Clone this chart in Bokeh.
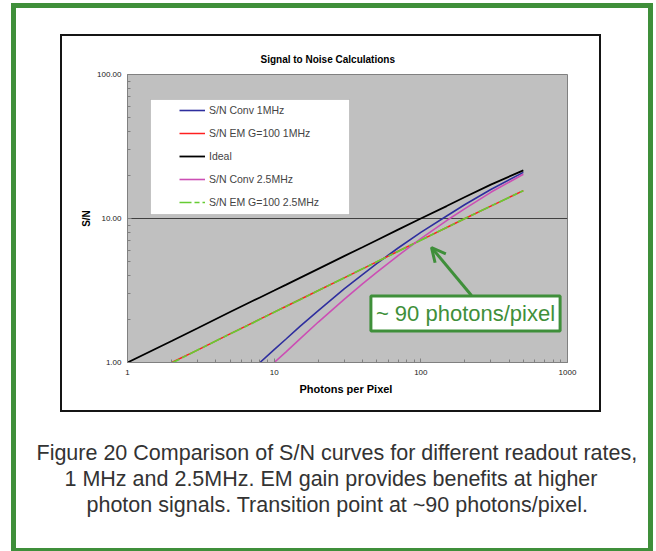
from bokeh.plotting import figure
from bokeh.models import (FixedTicker, PrintfTickFormatter, Legend, LegendItem,
                          BoxAnnotation, Label, Arrow, OpenHead, Title)
from bokeh.embed import file_html
from bokeh.resources import INLINE

# ---------------- data ----------------
photons = [1, 2, 3, 5, 7, 8, 10, 12, 15, 20, 30, 40, 50, 70, 100, 150, 200, 300, 500]
sn_conv_1mhz = [0.13, 0.26, 0.39, 0.64, 0.88, 1.00, 1.23, 1.45, 1.78, 2.29, 3.24, 4.08, 4.86, 6.24, 8.01, 10.4, 12.5, 15.9, 20.9]
sn_em_1mhz = [0.71, 1.00, 1.22, 1.58, 1.87, 2.00, 2.24, 2.45, 2.74, 3.16, 3.87, 4.47, 5.00, 5.92, 7.07, 8.66, 10.0, 12.2, 15.6]
sn_ideal = [1.00, 1.41, 1.73, 2.24, 2.65, 2.83, 3.16, 3.46, 3.87, 4.47, 5.48, 6.32, 7.07, 8.37, 10.0, 12.2, 14.1, 17.2, 21.6]
sn_conv_25mhz = [0.10, 0.21, 0.31, 0.51, 0.71, 0.81, 1.00, 1.18, 1.46, 1.91, 2.74, 3.51, 4.23, 5.53, 7.25, 9.68, 11.7, 15.2, 20.3]
sn_em_25mhz = [0.70, 0.99, 1.22, 1.58, 1.86, 2.00, 2.23, 2.45, 2.73, 3.16, 3.87, 4.47, 5.00, 5.91, 7.07, 8.66, 10.0, 12.2, 15.6]

series_names = ["S/N Conv 1MHz", "S/N EM G=100 1MHz", "Ideal", "S/N Conv 2.5MHz", "S/N EM G=100 2.5MHz"]
x_ticks = [1, 10, 100, 1000]
y_ticks = [1, 10, 100]

title_text = "Signal to Noise Calculations"
x_label = "Photons per  Pixel"
y_label = "S/N"
callout_text = "~ 90 photons/pixel"
caption_lines = ["Figure 20 Comparison of S/N curves for different readout rates,",
                 "1 MHz and 2.5MHz.  EM gain provides benefits at higher",
                 "photon signals. Transition point at ~90 photons/pixel."]
caption_offsets = [-91, -63, -41]

FONT = "Liberation Sans"
GREEN = "#3f8f3a"
BOXLINE = "#151515"

p = figure(width=656, height=551, x_axis_type="log", y_axis_type="log",
           x_range=(1, 1000), y_range=(1, 100),
           output_backend="svg", toolbar_location=None,
           min_border_left=127, min_border_right=89,
           min_border_top=74, min_border_bottom=189)
p.background_fill_color = "#c0c0c0"
p.border_fill_alpha = 0
p.outline_line_color = "#808080"
p.outline_line_width = 1

# page decoration: green outer frame and black chart box (drawn as CSS background strips)
_strips = [  # (color, x, y, w, h)
    (GREEN, 11, 3, 642, 5), (GREEN, 11, 548, 642, 5),
    (GREEN, 11, 3, 5, 550), (GREEN, 648, 3, 5, 550),
    (BOXLINE, 60, 34, 541, 2), (BOXLINE, 60, 410, 541, 2),
    (BOXLINE, 60, 34, 2, 378), (BOXLINE, 599, 34, 2, 378),
]
p.styles = {
    "background-color": "white",
    "background-image": ", ".join(f"linear-gradient({c}, {c})" for c, *_ in _strips),
    "background-size": ", ".join(f"{w}px {h}px" for _, _, _, w, h in _strips),
    "background-position": ", ".join(f"{x}px {y}px" for _, x, y, _, _ in _strips),
    "background-repeat": "no-repeat",
}

# grid: only the 10.00 line
p.xgrid.visible = False
p.ygrid.ticker = FixedTicker(ticks=[10])
p.ygrid.grid_line_color = "#404040"
p.ygrid.grid_line_width = 1

x_minor = [m * d for d in (1, 10, 100) for m in range(2, 10)]
y_minor = [m * d for d in (1, 10) for m in range(2, 10)]
p.xaxis.ticker = FixedTicker(ticks=x_ticks, minor_ticks=x_minor)
p.yaxis.ticker = FixedTicker(ticks=y_ticks, minor_ticks=y_minor)
p.xaxis.formatter = PrintfTickFormatter(format="%d")
p.yaxis.formatter = PrintfTickFormatter(format="%.2f")

for ax in (p.xaxis, p.yaxis):
    ax.axis_line_color = "#808080"
    ax.major_tick_line_color = "#808080"
    ax.minor_tick_line_color = "#808080"
    ax.major_tick_in = 4
    ax.major_tick_out = 0
    ax.minor_tick_in = 3
    ax.minor_tick_out = 0
    ax.major_label_text_font = FONT
    ax.major_label_text_font_size = "8px"
    ax.major_label_text_color = "#222222"
    ax.axis_label_text_font = FONT
    ax.axis_label_text_font_style = "bold"
    ax.axis_label_text_color = "black"

p.xaxis.axis_label = x_label
p.xaxis.axis_label_text_font_size = "11px"
p.xaxis.major_label_standoff = 7
p.xaxis.axis_label_standoff = 5
p.yaxis.axis_label = y_label
p.yaxis.axis_label_text_font_size = "10px"
p.yaxis.major_label_standoff = 6
p.yaxis.axis_label_standoff = 2

# ---------------- lines ----------------
r_conv1 = p.line(photons, sn_conv_1mhz, line_color="#2e2e9e", line_width=1.6)
r_em1 = p.line(photons, sn_em_1mhz, line_color="#ff2020", line_width=1.5)
r_ideal = p.line(photons, sn_ideal, line_color="black", line_width=1.8)
r_conv25 = p.line(photons, sn_conv_25mhz, line_color="#cc4fb4", line_width=1.6)
r_em25 = p.line(photons, sn_em_25mhz, line_color="#66cc33", line_width=1.7, line_dash="12 3 5 3")

# legend white box
p.add_layout(BoxAnnotation(left=150, right=349, top=99, bottom=214,
                           left_units="canvas", right_units="canvas",
                           top_units="canvas", bottom_units="canvas",
                           fill_color="white", fill_alpha=1,
                           line_color="#808080", line_width=1))

legend = Legend(items=[LegendItem(label=n, renderers=[r]) for n, r in
                       zip(series_names, [r_conv1, r_em1, r_ideal, r_conv25, r_em25])],
                location=(52, 150), padding=0, spacing=3, glyph_width=26,
                glyph_height=20, label_height=20, label_standoff=4,
                label_text_font=FONT, label_text_font_size="10.5px",
                background_fill_alpha=0, border_line_alpha=0)
p.add_layout(legend)

# title
p.add_layout(Title(text=title_text, align="left", offset=133, standoff=20,
                   text_font=FONT, text_font_style="bold", text_font_size="10px",
                   text_color="black"), "above")

# callout
p.add_layout(Arrow(x_start=471, y_start=295, x_end=431, y_end=247,
                   start_units="canvas", end_units="canvas",
                   line_color=GREEN, line_width=3,
                   end=OpenHead(size=14, line_color=GREEN, line_width=3)))
p.add_layout(Label(x=465, y=313, x_units="canvas", y_units="canvas", text=callout_text,
                   text_align="center", text_baseline="middle", text_font=FONT,
                   text_font_size="22px", text_color=GREEN,
                   background_fill_color="white", border_line_color=GREEN,
                   border_line_width=3, padding=5))

# caption (stacked below the x axis)
p.add_layout(Title(text=" ", standoff=39, text_font_size="1px"), "below")
for txt, off in zip(caption_lines, caption_offsets):
    p.add_layout(Title(text=txt, align="left", offset=off, standoff=0,
                       vertical_align="middle", text_font=FONT,
                       text_font_style="normal", text_font_size="21.5px",
                       text_color="#333333"), "below")

open("out.html", "w").write(file_html(p, INLINE))
